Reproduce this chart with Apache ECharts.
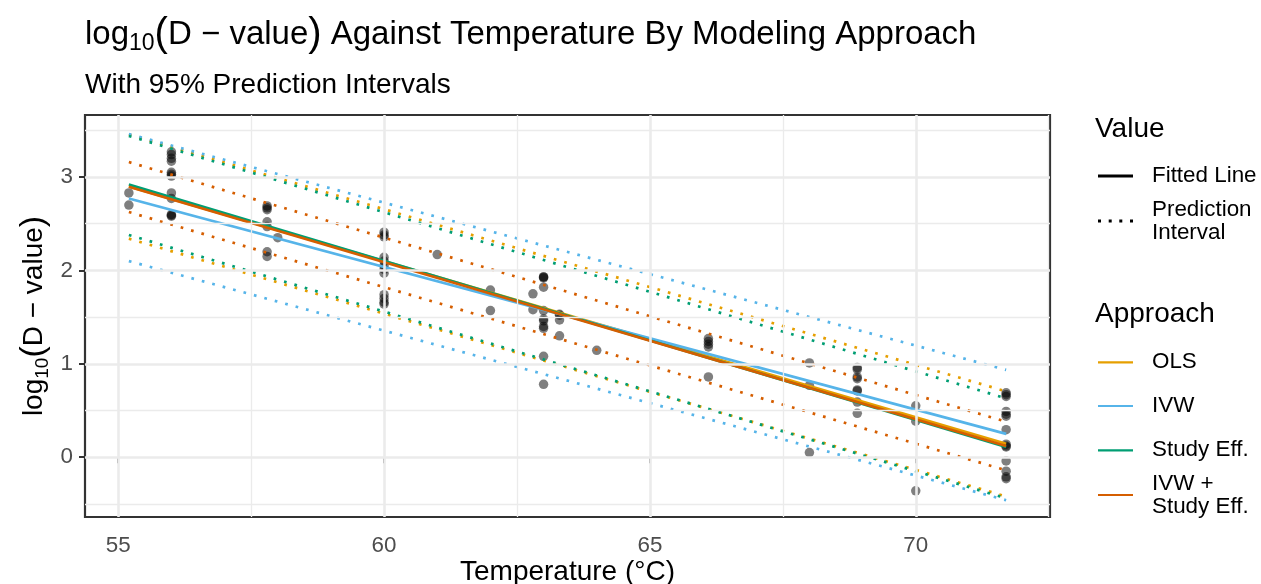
<!DOCTYPE html>
<html>
<head>
<meta charset="utf-8">
<script src="https://cdn.jsdelivr.net/npm/echarts/dist/echarts.min.js"></script>
<style>
html,body{margin:0;padding:0;background:#fff;}
#chart{width:1261px;height:584px;}
</style>
</head>
<body>
<div id="chart"></div>
<script>
// ---------- data ----------
const approaches = ['OLS', 'IVW', 'Study Eff.', 'IVW + Study Eff.'];
const lineTemps = [55.2, 71.7];
const olsFit = [2.90, 0.145];
const olsLower = [2.34, -0.42];
const olsUpper = [3.455, 0.705];
const ivwFit = [2.77, 0.25];
const ivwLower = [2.10, -0.46];
const ivwUpper = [3.46, 0.935];
const studyFit = [2.92, 0.11];
const studyLower = [2.38, -0.44];
const studyUpper = [3.44, 0.63];
const ivwStudyFit = [2.895, 0.12];
const ivwStudyLower = [2.625, -0.14];
const ivwStudyUpper = [3.16, 0.38];

const pointTemps = [
  55.2, 55.2,
  56, 56, 56, 56, 56, 56, 56, 56, 56, 56, 56, 56,
  57.8, 57.8, 57.8, 57.8, 57.8, 57.8, 57.8, 58,
  60, 60, 60, 60, 60, 60, 60, 60, 60, 60, 60, 60,
  61, 62, 62, 62.8, 62.8,
  63, 63, 63, 63, 63, 63, 63, 63, 63, 63, 63,
  63.3, 63.3, 63.3, 63.3, 64,
  66.1, 66.1, 66.1, 66.1, 66.1,
  68, 68, 68,
  68.9, 68.9, 68.9, 68.9, 68.9, 68.9, 68.9, 68.9,
  70, 70, 70,
  71.7, 71.7, 71.7, 71.7, 71.7, 71.7, 71.7, 71.7, 71.7, 71.7, 71.7, 71.7, 71.7, 71.7
];
const pointLogD = [
  2.83, 2.70,
  3.27, 3.24, 3.20, 3.17, 3.05, 3.03, 3.01, 2.83, 2.77, 2.60, 2.59, 2.58,
  2.69, 2.67, 2.65, 2.52, 2.47, 2.20, 2.15, 2.35,
  2.41, 2.38, 2.36, 2.14, 2.10, 2.05, 2.01, 1.97, 1.74, 1.70, 1.66, 1.64,
  2.17, 1.79, 1.57, 1.75, 1.58,
  1.93, 1.93, 1.92, 1.82, 1.57, 1.48, 1.46, 1.40, 1.38, 1.08, 0.78,
  1.53, 1.52, 1.47, 1.30, 1.145,
  1.27, 1.24, 1.21, 1.18, 0.86,
  1.01, 0.77, 0.05,
  0.96, 0.94, 0.86, 0.84, 0.72, 0.71, 0.59, 0.47,
  0.55, 0.385, -0.36,
  0.69, 0.67, 0.65, 0.49, 0.46, 0.44, 0.295, 0.14, 0.12, 0.11, -0.04, -0.15, -0.21, -0.23
];

const xTicks = [55, 60, 65, 70];
const xMinor = [57.5, 62.5, 67.5, 72.5];
const yTicks = [0, 1, 2, 3];
const yMinor = [-0.5, 0.5, 1.5, 2.5, 3.5];

// ---------- styling / assembly ----------
const FONT = "'Liberation Sans', Arial, Helvetica, sans-serif";
const colors = { 'OLS': '#E69F00', 'IVW': '#56B4E9', 'Study Eff.': '#009E73', 'IVW + Study Eff.': '#D55E00' };
const fits = { 'OLS': olsFit, 'IVW': ivwFit, 'Study Eff.': studyFit, 'IVW + Study Eff.': ivwStudyFit };
const lowers = { 'OLS': olsLower, 'IVW': ivwLower, 'Study Eff.': studyLower, 'IVW + Study Eff.': ivwStudyLower };
const uppers = { 'OLS': olsUpper, 'IVW': ivwUpper, 'Study Eff.': studyUpper, 'IVW + Study Eff.': ivwStudyUpper };

const toPairs = vals => lineTemps.map((t, i) => [t, vals[i]]);
const LW = 2.7;

const series = [];
// grid lines (drawn through the axes via markLine)
series.push({
  type: 'line', data: [], silent: true, z: 1,
  markLine: {
    silent: true, symbol: ['none', 'none'], label: { show: false }, animation: false,
    emphasis: { disabled: true },
    lineStyle: { color: '#ebebeb', width: 1.3, type: 'solid' },
    data: xMinor.map(v => ({ xAxis: v })).concat(yMinor.map(v => ({ yAxis: v })))
  }
});
series.push({
  type: 'line', data: [], silent: true, z: 1,
  markLine: {
    silent: true, symbol: ['none', 'none'], label: { show: false }, animation: false,
    emphasis: { disabled: true },
    lineStyle: { color: '#ebebeb', width: 2.6, type: 'solid' },
    data: xTicks.map(v => ({ xAxis: v })).concat(yTicks.map(v => ({ yAxis: v })))
  }
});
// points
series.push({
  name: 'Observed', type: 'scatter', z: 2,
  data: pointTemps.map((t, i) => [t, pointLogD[i]]),
  symbol: 'circle', symbolSize: 9.5,
  itemStyle: { color: '#000', opacity: 0.5 },
  silent: true
});
// prediction intervals
approaches.forEach(a => {
  [lowers[a], uppers[a]].forEach(v => {
    series.push({
      name: a, type: 'line', z: 3, data: toPairs(v), showSymbol: false, symbol: 'none',
      color: colors[a], silent: true,
      lineStyle: { color: colors[a], width: LW, type: [LW, LW * 3], cap: 'butt' }
    });
  });
});
// fitted lines
approaches.forEach(a => {
  series.push({
    name: a, type: 'line', z: 4, data: toPairs(fits[a]), showSymbol: false, symbol: 'none',
    color: colors[a], silent: true,
    lineStyle: { color: colors[a], width: LW, type: 'solid', cap: 'butt' }
  });
});
// legend-only series
series.push({ name: 'Fitted Line', type: 'line', data: [], color: '#000', lineStyle: { color: '#000' } });
series.push({ name: 'Prediction Interval', type: 'line', data: [], color: '#000', lineStyle: { color: '#000', type: 'dotted' } });

const solidIcon = 'path://M0,0h35v3h-35z';
const thinIcon = 'path://M0,0h35v2.2h-35z';
const dotIcon = 'path://M0,0h3v3h-3z M10.7,0h3v3h-3z M21.3,0h3v3h-3z M32,0h3v3h-3z';
const legendText = { fontSize: 22.4, color: '#000', fontFamily: FONT, lineHeight: 23, padding: [0, 0, 0, 14] };
function mkLegend(name, top, icon, h, color) {
  return {
    show: true, left: 1098, top: top, padding: 0, selectedMode: false,
    itemWidth: 35, itemHeight: h, orient: 'vertical',
    data: [{ name: name, icon: icon, itemStyle: { color: color, borderWidth: 0, opacity: 1 } }],
    textStyle: legendText,
    formatter: n => n === 'Prediction Interval' ? 'Prediction\nInterval' : (n === 'IVW + Study Eff.' ? 'IVW +\nStudy Eff.' : n)
  };
}

const titleRich = {
  a: { fontSize: 33, fontWeight: 'normal', color: '#000', fontFamily: FONT, lineHeight: 42, verticalAlign: 'middle' },
  s: { fontSize: 23, fontWeight: 'normal', color: '#000', fontFamily: FONT, lineHeight: 23, verticalAlign: 'bottom' },
  p: { fontSize: 40, fontWeight: 'normal', color: '#000', fontFamily: FONT, lineHeight: 42, verticalAlign: 'middle' }
};
const yNameRich = {
  a: { fontSize: 28, color: '#000', fontFamily: FONT, lineHeight: 36, verticalAlign: 'middle' },
  s: { fontSize: 19, color: '#000', fontFamily: FONT, lineHeight: 19, verticalAlign: 'bottom' },
  p: { fontSize: 34, color: '#000', fontFamily: FONT, lineHeight: 36, verticalAlign: 'middle' }
};

const option = {
  animation: false,
  backgroundColor: '#ffffff',
  textStyle: { fontFamily: FONT },
  title: [
    { text: '{a|log}{s|10}{p|(}{a|D − value}{p|)}{a| Against Temperature By Modeling Approach}',
      left: 85, top: 13.5, padding: 0, textStyle: { fontWeight: 'normal', rich: titleRich } },
    { text: 'With 95% Prediction Intervals', left: 85, top: 71, padding: 0,
      textStyle: { fontSize: 28, fontWeight: 'normal', color: '#000', fontFamily: FONT, lineHeight: 28 } },
    { text: 'Value', left: 1095, top: 115.5, padding: 0,
      textStyle: { fontSize: 28, fontWeight: 'normal', color: '#000', fontFamily: FONT, lineHeight: 28 } },
    { text: 'Approach', left: 1095, top: 300, padding: 0,
      textStyle: { fontSize: 28, fontWeight: 'normal', color: '#000', fontFamily: FONT, lineHeight: 28 } }
  ],
  legend: [
    mkLegend('Fitted Line', 164.5, solidIcon, 3, '#000'),
    mkLegend('Prediction Interval', 198, dotIcon, 3, '#000'),
    mkLegend('OLS', 350.8, thinIcon, 2.2, colors['OLS']),
    mkLegend('IVW', 394.5, thinIcon, 2.2, colors['IVW']),
    mkLegend('Study Eff.', 438.8, thinIcon, 2.2, colors['Study Eff.']),
    mkLegend('IVW + Study Eff.', 472, thinIcon, 2.2, colors['IVW + Study Eff.'])
  ],
  grid: {
    left: 85, right: 211, top: 115, bottom: 67, containLabel: false, outerBoundsMode: 'none',
    show: true, borderColor: '#333333', borderWidth: 2.2, backgroundColor: '#ffffff', z: 0
  },
  xAxis: {
    type: 'value', min: 54.375, max: 72.525,
    name: 'Temperature (°C)', nameLocation: 'middle', nameGap: 41, nameMoveOverlap: false,
    nameTextStyle: { fontSize: 28, color: '#000', fontFamily: FONT, lineHeight: 28 },
    axisLine: { show: false },
    axisTick: { show: true, length: 6, customValues: xTicks, lineStyle: { color: '#333333', width: 2 } },
    axisLabel: { show: true, customValues: xTicks, margin: 18, fontSize: 22.4, color: '#4d4d4d', fontFamily: FONT },
    splitLine: { show: false }, minorSplitLine: { show: false }
  },
  yAxis: {
    type: 'value', min: -0.64, max: 3.664,
    name: '{a|log}{s|10}{p|(}{a|D − value}{p|)}', nameLocation: 'middle', nameGap: 33, nameRotate: 90,
    nameMoveOverlap: false,
    nameTextStyle: { rich: yNameRich },
    axisLine: { show: false },
    axisTick: { show: true, length: 6, customValues: yTicks, lineStyle: { color: '#333333', width: 2 } },
    axisLabel: { show: true, customValues: yTicks, margin: 12, fontSize: 22.4, color: '#4d4d4d', fontFamily: FONT },
    splitLine: { show: false }, minorSplitLine: { show: false }
  },
  series: series
};

const chart = echarts.init(document.getElementById('chart'), null, { renderer: 'canvas' });
chart.setOption(option);
</script>
</body>
</html>
